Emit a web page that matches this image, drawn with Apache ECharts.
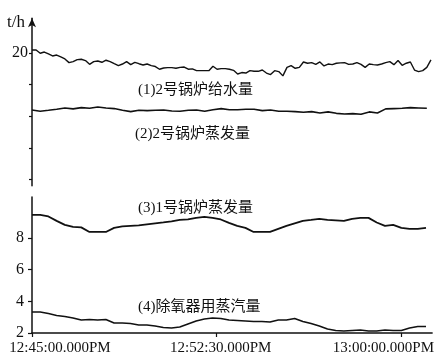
<!DOCTYPE html>
<html>
<head>
<meta charset="utf-8">
<script src="https://cdn.jsdelivr.net/npm/echarts@6/dist/echarts.min.js"></script>
<style>
html,body{margin:0;padding:0;background:#fff;}
#chart{width:437px;height:362px;}
</style>
</head>
<body>
<div id="chart"></div>
<script>
// time axis in seconds after 12:45:00
const timeTicks = [0, 450, 900];
const timeLabels = ['12:45:00.000PM', '12:52:30.000PM', '13:00:00.000PM'];
const seriesNames = ['(1)2号锅炉给水量', '(2)2号锅炉蒸发量', '(3)1号锅炉蒸发量', '(4)除氧器用蒸汽量'];
const step1 = 10;   // seconds between samples of series 1
const step2 = 20;   // seconds between samples of series 2-4

// (1) 2号锅炉给水量 t/h
const feedWater2 = [20.19,20.19,19.98,20.06,19.94,19.81,19.87,19.75,19.62,19.39,
  19.45,19.58,19.60,19.52,19.28,19.45,19.49,19.41,19.54,19.45,
  19.32,19.20,19.30,19.45,19.26,19.41,19.32,19.24,19.30,19.20,
  19.14,18.97,19.05,19.07,19.07,19.03,19.09,19.11,18.97,18.99,
  18.88,18.88,18.88,18.88,19.16,18.97,19.01,19.01,18.97,18.90,
  18.67,18.76,18.73,18.88,18.84,18.84,18.92,18.73,18.63,18.88,
  18.82,18.55,19.09,19.20,19.03,19.09,19.43,19.35,19.39,19.28,
  19.43,19.18,19.30,19.26,19.35,19.37,19.39,19.28,19.30,19.39,
  19.28,19.09,19.30,19.26,19.24,19.30,19.39,19.45,19.26,19.52,
  19.22,19.35,19.43,18.92,18.82,18.88,19.09,19.56];
// (2) 2号锅炉蒸发量
const steam2 = [16.39,16.31,16.37,16.44,16.52,16.46,16.54,16.50,16.58,16.52,
  16.48,16.37,16.29,16.37,16.35,16.37,16.39,16.33,16.31,16.37,
  16.39,16.31,16.41,16.48,16.41,16.41,16.44,16.44,16.35,16.39,
  16.31,16.31,16.29,16.25,16.29,16.20,16.27,16.18,16.14,16.16,
  16.12,16.27,16.20,16.46,16.48,16.50,16.54,16.52,16.50];
// (3) 1号锅炉蒸发量
const steam1 = [9.47,9.47,9.37,9.09,8.84,8.71,8.68,8.39,8.39,8.39,
  8.65,8.74,8.77,8.80,8.87,8.93,8.99,9.06,9.15,9.18,
  9.28,9.34,9.28,9.18,8.96,8.77,8.65,8.39,8.39,8.39,
  8.58,8.77,8.93,9.09,9.15,9.22,9.15,9.12,9.09,9.22,
  9.28,9.28,8.99,8.77,8.84,8.65,8.58,8.58,8.65];
// (4) 除氧器用蒸汽量
const deaerator = [3.33,3.33,3.23,3.11,3.04,2.95,2.82,2.85,2.82,2.85,
  2.63,2.63,2.60,2.51,2.51,2.44,2.35,2.32,2.38,2.57,
  2.76,2.89,2.95,2.92,2.82,2.79,2.76,2.73,2.73,2.70,
  2.82,2.82,2.92,2.73,2.60,2.44,2.25,2.16,2.13,2.16,
  2.19,2.13,2.13,2.19,2.16,2.16,2.32,2.41,2.41];

const upperTicks = [12, 14, 16, 18, 20];
const upperLabels = [20];
const lowerTicks = [2, 4, 6, 8];
const lowerLabels = [2, 4, 6, 8];

const FONT = '"Liberation Serif", "Noto Sans CJK SC", serif';
const INK = '#111';

function toPairs(values, step) { return values.map((v, i) => [i * step, v]); }

const chart = echarts.init(document.getElementById('chart'), null, {renderer: 'canvas'});
const axisLine = {show: true, lineStyle: {color: INK, width: 1.5}};
const option = {
  backgroundColor: '#fff',
  animation: false,
  grid: [
    {left: 32, right: 4, top: 18.2, height: 167.5},
    {left: 32, right: 4, top: 197, height: 136}
  ],
  xAxis: [
    {gridIndex: 0, type: 'value', min: 0, max: 975, show: false},
    {gridIndex: 1, type: 'value', min: 0, max: 975,
      axisLine: axisLine,
      axisTick: {show: true, length: 4, customValues: timeTicks, lineStyle: {color: INK, width: 1.2}},
      splitLine: {show: false},
      axisLabel: {
        customValues: timeTicks, margin: 8, color: INK,
        fontFamily: FONT, fontSize: 15,
        formatter: function (v) {
          const i = timeTicks.indexOf(v);
          return '{' + ['a', 'b', 'c'][i] + '|' + timeLabels[i] + '}';
        },
        rich: {
          a: {fontFamily: FONT, fontSize: 15, color: INK, padding: [0, 0, 0, 56]},
          b: {fontFamily: FONT, fontSize: 15, color: INK, padding: [0, 0, 0, 8]},
          c: {fontFamily: FONT, fontSize: 15, color: INK, padding: [0, 36, 0, 0]}
        }
      }
    }
  ],
  yAxis: [
    {gridIndex: 0, type: 'value', min: 11.6, max: 22.2,
      axisLine: {show: true, symbol: ['none', 'arrow'], symbolSize: [6, 9], lineStyle: {color: INK, width: 1.5}},
      axisTick: {show: true, length: 3, customValues: upperTicks, lineStyle: {color: INK, width: 1.2}},
      axisLabel: {customValues: upperLabels, margin: 4, color: INK, fontFamily: FONT, fontSize: 16},
      splitLine: {show: false},
      name: 't/h', nameLocation: 'end', nameGap: -4,
      nameTextStyle: {color: INK, fontFamily: FONT, fontSize: 17, align: 'right', verticalAlign: 'middle', padding: [0, 7, 0, 0]}
    },
    {gridIndex: 1, type: 'value', min: 2, max: 10.6,
      axisLine: axisLine,
      axisTick: {show: true, length: 4, customValues: lowerTicks, lineStyle: {color: INK, width: 1.2}},
      axisLabel: {customValues: lowerLabels, margin: 8, color: INK, fontFamily: FONT, fontSize: 16},
      splitLine: {show: false}
    }
  ],
  series: [
    {name: seriesNames[0], type: 'line', xAxisIndex: 0, yAxisIndex: 0, data: toPairs(feedWater2, step1), showSymbol: false, lineStyle: {color: INK, width: 1.4}},
    {name: seriesNames[1], type: 'line', xAxisIndex: 0, yAxisIndex: 0, data: toPairs(steam2, step2), showSymbol: false, lineStyle: {color: INK, width: 1.6}},
    {name: seriesNames[2], type: 'line', xAxisIndex: 1, yAxisIndex: 1, data: toPairs(steam1, step2), showSymbol: false, lineStyle: {color: INK, width: 1.8}},
    {name: seriesNames[3], type: 'line', xAxisIndex: 1, yAxisIndex: 1, data: toPairs(deaerator, step2), showSymbol: false, lineStyle: {color: INK, width: 1.6}}
  ],
  graphic: [
    {type: 'text', x: 138, y: 90, style: {text: seriesNames[0], font: '15px ' + FONT, fill: INK, verticalAlign: 'middle'}},
    {type: 'text', x: 135, y: 134, style: {text: seriesNames[1], font: '15px ' + FONT, fill: INK, verticalAlign: 'middle'}},
    {type: 'text', x: 138, y: 208, style: {text: seriesNames[2], font: '15px ' + FONT, fill: INK, verticalAlign: 'middle'}},
    {type: 'text', x: 138, y: 307, style: {text: seriesNames[3], font: '15px ' + FONT, fill: INK, verticalAlign: 'middle'}}
  ]
};
chart.setOption(option);
</script>
</body>
</html>
